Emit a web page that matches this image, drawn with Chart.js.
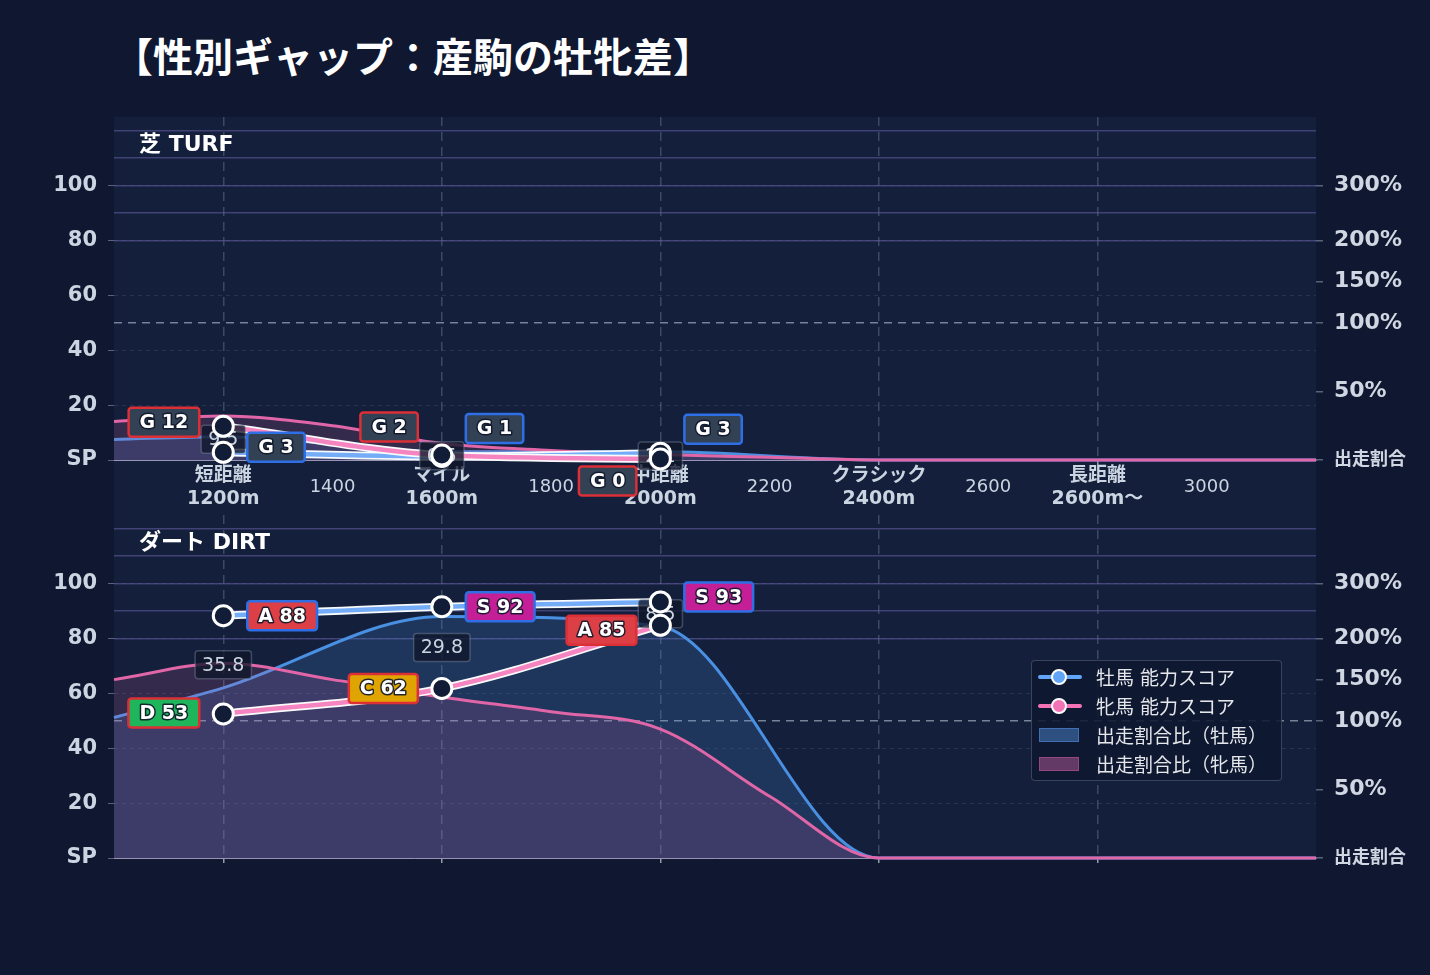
<!DOCTYPE html>
<html lang="ja">
<head>
<meta charset="UTF-8">
<title>性別ギャップ：産駒の牡牝差</title>
<script src="https://cdn.jsdelivr.net/npm/chart.js@4.4.1/dist/chart.umd.min.js"></script>
<style>
    html, body {
        margin: 0;
        padding: 0;
        background: #0f1830;
    }
    body {
        width: 1430px;
        height: 975px;
        position: relative;
        overflow: hidden;
        font-family: 'DejaVu Sans', 'Noto Sans CJK JP', sans-serif;
    }
    .title {
        position: absolute;
        left: 113px;
        top: 32px;
        line-height: 46px;
        font-size: 40px;
        font-weight: bold;
        color: #ffffff;
        font-family: 'Noto Sans CJK JP', sans-serif;
        white-space: nowrap;
    }
    .panel {
        position: absolute;
        left: 0;
        width: 1430px;
    }
    #turfBox { top: 100px; height: 415px; }
    #dirtBox { top: 500px; height: 380px; }
    .legend {
        position: absolute;
        left: 1031px;
        top: 660px;
        width: 251px;
        height: 121px;
        box-sizing: border-box;
        padding-top: 1px;
        border: 1px solid rgba(148, 163, 184, 0.32);
        border-radius: 4px;
        background: rgba(15, 24, 48, 0.88);
    }
    .legend .row {
        height: 29px;
        display: flex;
        align-items: center;
        font-size: 19px;
        color: #e5e7eb;
        font-family: 'DejaVu Sans', 'Noto Sans CJK JP', sans-serif;
        white-space: nowrap;
    }
    .legend .ico {
        position: relative;
        width: 44px;
        height: 16px;
        margin-left: 6px;
        margin-right: 14px;
        flex: none;
    }
    .ico.line::before {
        content: '';
        position: absolute;
        left: 0;
        right: 0;
        top: 6px;
        height: 4px;
        border-radius: 2px;
        background: var(--c);
    }
    .ico.line i {
        position: absolute;
        left: 13px;
        top: 0;
        width: 12px;
        height: 12px;
        border-radius: 50%;
        background: var(--c);
        border: 2px solid #ffffff;
    }
    .ico.box i {
        position: absolute;
        left: 1px;
        top: 1px;
        width: 38px;
        height: 12px;
        background: var(--f);
        border: 1px solid var(--c);
    }
</style>
</head>
<body>
<div class="title">【性別ギャップ：産駒の牡牝差】</div>
<div class="panel" id="turfBox"><canvas id="turfChart"></canvas></div>
<div class="panel" id="dirtBox"><canvas id="dirtChart"></canvas></div>
<div class="legend">
    <div class="row"><span class="ico line" style="--c:#60a5fa"><i></i></span>牡馬 能力スコア</div>
    <div class="row"><span class="ico line" style="--c:#f472b6"><i></i></span>牝馬 能力スコア</div>
    <div class="row"><span class="ico box" style="--c:#3f6fb0;--f:#2d5080"><i></i></span>出走割合比（牡馬）</div>
    <div class="row"><span class="ico box" style="--c:#96467f;--f:#633a66"><i></i></span>出走割合比（牝馬）</div>
</div>

<script>
const FONT = "'DejaVu Sans', 'Noto Sans CJK JP', sans-serif";
Chart.defaults.font.family = FONT;

// 距離カテゴリ
const categoryX = [1200, 1600, 2000, 2400, 2800];
const categoryNames = ['短距離', 'マイル', '中距離', 'クラシック', '長距離'];
const categoryDistances = ['1200m', '1600m', '2000m', '2400m', '2600m〜'];
const distanceTicks = [1200, 1400, 1600, 1800, 2000, 2200, 2400, 2600, 2800, 3000];

// 能力スコア (短距離 / マイル / 中距離)
const scoreX = [1200, 1600, 2000];
const turfMaleScore = [2.8, 1.3, 2.5];
const turfFemaleScore = [12.3, 1.8, 0.4];
const dirtMaleScore = [88.3, 91.6, 93.3];
const dirtFemaleScore = [52.5, 61.8, 84.8];

// 出走割合比 (%)  牡馬はカテゴリ点、牝馬は200m刻み
const maleRatioX = [1000, 1200, 1600, 2000, 2400, 2800, 3200];
const femaleRatioX = [1000, 1200, 1400, 1600, 1800, 2000, 2200, 2400, 2600, 2800, 3000, 3200];
const turfMaleRatio = [15, 17, 6, 6, 0, 0, 0];
const turfFemaleRatio = [28, 32, 25, 12, 7, 4, 2, 0, 0, 0, 0, 0];
const dirtMaleRatio = [104, 140, 240, 222, 0, 0, 0];
const dirtFemaleRatio = [150, 170, 150, 129, 111, 94, 45, 0, 0, 0, 0, 0];

// 軸目盛
const scoreTicks = [0, 20, 40, 60, 80, 100];
const ratioTicks = [0, 50, 100, 150, 200, 250, 300, 350, 400];
const ratioTickLabels = ['出走割合', '50%', '100%', '150%', '200%', '', '300%', '', ''];

// グレード
const gradeMins = [90, 80, 70, 60, 50, 40, 30];
const gradeNames = ['S', 'A', 'B', 'C', 'D', 'E', 'F'];
const gradeColors = { S: '#c41f96', A: '#dc3f46', B: '#f97316', C: '#e0a400', D: '#1fb55a', E: '#0ea5e9', F: '#64748b', G: '#334155' };

// 右軸は区間ごとに縮尺が違う
function ratioToAxis(r) {
    if (r <= 100) return r * 0.5;
    if (r <= 200) return 50 + (r - 100) * 0.3;
    return 80 + (r - 200) * 0.2;
}

function gradeOf(v) {
    for (let i = 0; i < gradeMins.length; i++) {
        if (v >= gradeMins[i]) return gradeNames[i];
    }
    return 'G';
}

function xy(xs, ys, f) {
    return xs.map((x, i) => ({ x: x, y: f ? f(ys[i]) : ys[i] }));
}

function roleIndex(chart, role) {
    return chart.data.datasets.findIndex(d => d.role === role);
}

function drawGapBoxes(chart, p) {
    const { ctx, scales } = chart;
    ctx.save();
    ctx.font = `19px ${FONT}`;
    ctx.textAlign = 'center';
    ctx.textBaseline = 'middle';
    scoreX.forEach((d, i) => {
        const m = p.male[i], f = p.female[i];
        const text = Math.abs(m - f).toFixed(1);
        const x = scales.x.getPixelForValue(d);
        const y = scales.y.getPixelForValue((m + f) / 2);
        const w = ctx.measureText(text).width + 14, h = 28;
        ctx.beginPath();
        ctx.roundRect(x - w / 2, y - h / 2, w, h, 3);
        ctx.fillStyle = 'rgba(15, 23, 42, 0.78)';
        ctx.fill();
        ctx.lineWidth = 1.5;
        ctx.strokeStyle = 'rgba(148, 163, 184, 0.35)';
        ctx.stroke();
        ctx.fillStyle = '#cbd5e1';
        ctx.fillText(text, x, y + 1);
    });
    ctx.restore();
}

function drawScoreLabels(chart, p) {
    const { ctx } = chart;
    const sets = [
        ['malePoints', p.male, p.maleShift, '#2f6fe6', 1],
        ['femalePoints', p.female, p.femaleShift, '#dc2f36', -1]
    ];
    ctx.save();
    ctx.font = `bold 19px ${FONT}`;
    ctx.textAlign = 'center';
    ctx.textBaseline = 'middle';
    ctx.lineJoin = 'round';
    sets.forEach(([role, vals, shift, edge, side]) => {
        const meta = chart.getDatasetMeta(roleIndex(chart, role));
        meta.data.forEach((pt, i) => {
            const g = gradeOf(vals[i]);
            const text = g + ' ' + Math.round(vals[i]);
            const w = ctx.measureText(text).width + 22, h = 29;
            const left = side > 0 ? pt.x + 24 : pt.x - 24 - w;
            const top = pt.y + shift[i] - h / 2;
            ctx.beginPath();
            ctx.roundRect(left, top, w, h, 3);
            ctx.fillStyle = gradeColors[g];
            ctx.fill();
            ctx.lineWidth = 2.5;
            ctx.strokeStyle = edge;
            ctx.stroke();
            const cx = left + w / 2, cy = top + h / 2 + 1;
            ctx.lineWidth = 3;
            ctx.strokeStyle = 'rgba(15, 23, 42, 0.9)';
            ctx.strokeText(text, cx, cy);
            ctx.fillStyle = '#ffffff';
            ctx.fillText(text, cx, cy);
        });
    });
    ctx.restore();
}

const panelPlugin = {
    id: 'panel',
    beforeDraw(chart, args, opts) {
        const { ctx, chartArea: a } = chart;
        const bottom = opts.toAxisBottom ? chart.scales.x.bottom : a.bottom;
        ctx.save();
        ctx.fillStyle = '#131f3b';
        ctx.fillRect(a.left, a.top, a.right - a.left, bottom - a.top);
        ctx.restore();
    },
    afterDatasetDraw(chart, args, opts) {
        if (chart.data.datasets[args.index].role === 'femaleLine') drawGapBoxes(chart, opts.panel);
    },
    afterDatasetsDraw(chart, args, opts) {
        const { ctx, chartArea: a } = chart;
        ctx.save();
        ctx.font = `bold 22px ${FONT}`;
        ctx.fillStyle = '#ffffff';
        ctx.textBaseline = 'middle';
        ctx.fillText(opts.panel.name, a.left + 25, a.top + 28);
        ctx.restore();
        drawScoreLabels(chart, opts.panel);
    }
};

// 縦軸の余白は自前で決める
function fixYAxis(s) {
    s.width = 114;
    s.paddingTop = 0;
    s.paddingBottom = 0;
}

function makeChart(canvasId, p) {
    const isCat = v => categoryX.includes(v);
    const lineBase = { pointRadius: 0, cubicInterpolationMode: 'monotone', yAxisID: 'y', clip: 6 };
    const pointBase = {
        showLine: false, pointRadius: 10, pointHoverRadius: 10, pointBorderWidth: 3,
        pointBackgroundColor: '#111c36', pointBorderColor: '#ffffff', yAxisID: 'y', clip: false
    };
    return new Chart(document.getElementById(canvasId), {
        type: 'line',
        data: {
            datasets: [
                Object.assign({}, lineBase, {
                    role: 'maleRatio', data: xy(maleRatioX, p.maleRatio, ratioToAxis), order: 7,
                    borderColor: '#4a90e2', borderWidth: 3, fill: 'origin', backgroundColor: 'rgba(74, 144, 226, 0.2)'
                }),
                Object.assign({}, lineBase, {
                    role: 'femaleRatio', data: xy(femaleRatioX, p.femaleRatio, ratioToAxis), order: 6,
                    borderColor: '#e066a8', borderWidth: 3, fill: 'origin', backgroundColor: 'rgba(224, 102, 170, 0.16)'
                }),
                Object.assign({}, lineBase, {
                    role: 'maleOutline', data: xy(scoreX, p.male), order: 5, borderColor: '#f8fafc', borderWidth: 8
                }),
                Object.assign({}, lineBase, {
                    role: 'maleLine', data: xy(scoreX, p.male), order: 4, borderColor: '#74acf7', borderWidth: 4.5
                }),
                Object.assign({}, lineBase, {
                    role: 'femaleOutline', data: xy(scoreX, p.female), order: 3, borderColor: '#f8fafc', borderWidth: 8
                }),
                Object.assign({}, lineBase, {
                    role: 'femaleLine', data: xy(scoreX, p.female), order: 2, borderColor: '#f585c0', borderWidth: 4.5
                }),
                Object.assign({}, pointBase, { role: 'malePoints', data: xy(scoreX, p.male), order: 1 }),
                Object.assign({}, pointBase, { role: 'femalePoints', data: xy(scoreX, p.female), order: 0 })
            ]
        },
        options: {
            responsive: true,
            maintainAspectRatio: false,
            animation: false,
            events: [],
            layout: { autoPadding: false, padding: { top: p.padTop, left: 0, right: 0, bottom: 0 } },
            plugins: {
                legend: { display: false },
                tooltip: { enabled: false },
                panel: { panel: p, toAxisBottom: p.showX }
            },
            scales: {
                x: {
                    type: 'linear',
                    min: 1000,
                    max: 3200,
                    afterBuildTicks: s => { s.ticks = distanceTicks.map(v => ({ value: v })); },
                    afterFit: s => { s.height = p.xHeight; s.paddingLeft = 0; s.paddingRight = 0; },
                    ticks: {
                        display: p.showX,
                        autoSkip: false,
                        maxRotation: 0,
                        padding: -0.5,
                        color: '#cbd5e1',
                        callback: v => {
                            const k = categoryX.indexOf(v);
                            return k >= 0 ? [categoryNames[k], categoryDistances[k]] : String(v);
                        },
                        font: c => (c.tick && isCat(c.tick.value))
                            ? { size: 19, weight: 'bold', lineHeight: 1.21 }
                            : { size: 18, weight: 'normal', lineHeight: 2.55 }
                    },
                    grid: {
                        color: c => (c.tick && isCat(c.tick.value)) ? 'rgba(148, 163, 184, 0.32)' : 'rgba(0,0,0,0)',
                        lineWidth: 1.5,
                        tickLength: 5,
                        tickColor: c => (c.tick && isCat(c.tick.value)) ? 'rgba(203, 213, 225, 0.7)' : 'rgba(0,0,0,0)'
                    },
                    border: { display: true, color: 'rgba(210, 200, 235, 0.7)', width: 1, dash: [9, 6] }
                },
                y: {
                    position: 'left',
                    min: 0,
                    max: 125,
                    afterBuildTicks: s => { s.ticks = scoreTicks.map(v => ({ value: v })); },
                    afterFit: fixYAxis,
                    ticks: {
                        padding: 11,
                        color: '#cbd5e1',
                        font: { size: 21, weight: 'bold' },
                        callback: v => v === 0 ? 'SP' : String(v)
                    },
                    grid: {
                        color: c => (c.tick && c.tick.value > 0) ? 'rgba(148, 163, 184, 0.16)' : 'rgba(0,0,0,0)',
                        lineWidth: 1,
                        tickLength: 6,
                        tickColor: 'rgba(148, 163, 184, 0.55)'
                    },
                    border: { display: false, dash: [4, 4] }
                },
                y2: {
                    position: 'right',
                    min: 0,
                    max: 125,
                    afterBuildTicks: s => { s.ticks = ratioTicks.map(r => ({ value: ratioToAxis(r) })); },
                    afterFit: fixYAxis,
                    ticks: {
                        padding: 11,
                        color: '#d0d7e2',
                        font: c => c.index === 0 ? { size: 18, weight: 'bold' } : { size: 22, weight: 'bold' },
                        callback: (v, i) => ratioTickLabels[i]
                    },
                    grid: {
                        color: c => {
                            const r = ratioTicks[c.index];
                            if (r === 100) return 'rgba(203, 213, 225, 0.55)';
                            if (r >= 200) return 'rgba(104, 94, 165, 0.55)';
                            return 'rgba(0,0,0,0)';
                        },
                        lineWidth: 1.5,
                        tickLength: 7,
                        tickColor: c => ratioTickLabels[c.index] ? 'rgba(148, 163, 184, 0.55)' : 'rgba(0,0,0,0)'
                    },
                    border: { display: false, dash: c => ratioTicks[c.index] === 100 ? [8, 6] : [] }
                }
            }
        },
        plugins: [panelPlugin]
    });
}

makeChart('turfChart', {
    name: '芝 TURF',
    male: turfMaleScore,
    female: turfFemaleScore,
    maleRatio: turfMaleRatio,
    femaleRatio: turfFemaleRatio,
    maleShift: [-5, -28, -24],
    femaleShift: [-4, -28, 22],
    showX: true,
    padTop: 17,
    xHeight: 55
});

makeChart('dirtChart', {
    name: 'ダート DIRT',
    male: dirtMaleScore,
    female: dirtFemaleScore,
    maleRatio: dirtMaleRatio,
    femaleRatio: dirtFemaleRatio,
    maleShift: [0, 0, -5],
    femaleShift: [-1, 0, 5],
    showX: false,
    padTop: 15,
    xHeight: 22
});
</script>
</body>
</html>
